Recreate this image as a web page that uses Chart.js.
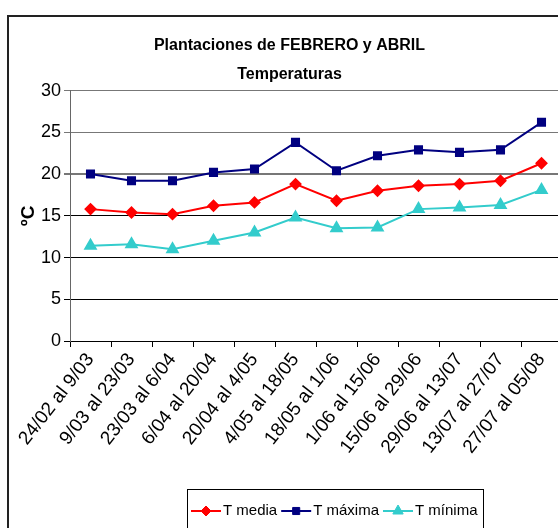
<!DOCTYPE html>
<html>
<head>
<meta charset="utf-8">
<script src="https://cdn.jsdelivr.net/npm/chart.js@4.4.0/dist/chart.umd.min.js"></script>
<style>
  html, body { margin: 0; padding: 0; background: #fff; overflow: hidden; }
  #wrap { position: relative; width: 558px; height: 528px; overflow: hidden; }
  #chart { position: absolute; left: 0; top: 0; }
</style>
</head>
<body>
<div id="wrap"><canvas id="chart" width="600" height="560"></canvas></div>
<script>
// Data
const periods = ['24/02 al 9/03', '9/03 al 23/03', '23/03 al 6/04', '6/04 al 20/04', '20/04 al 4/05', '4/05 al 18/05',
                 '18/05 al 1/06', '1/06 al 15/06', '15/06 al 29/06', '29/06 al 13/07', '13/07 al 27/07', '27/07 al 05/08'];
const tMedia  = [15.8, 15.4, 15.2, 16.2, 16.6, 18.8, 16.8, 18.0, 18.6, 18.8, 19.2, 21.3];
const tMaxima = [20.0, 19.2, 19.2, 20.2, 20.6, 23.8, 20.4, 22.2, 22.9, 22.6, 22.9, 26.2];
const tMinima = [11.4, 11.6, 11.0, 12.0, 13.0, 14.8, 13.5, 13.6, 15.8, 16.0, 16.3, 18.1];
const yTicks = [0, 5, 10, 15, 20, 25, 30];

const FONT = "'Liberation Sans', Arial, sans-serif";

// outer frame of the chart object
const framePlugin = {
    id: 'frame',
    beforeDraw(chart) {
        const ctx = chart.ctx;
        ctx.save();
        ctx.strokeStyle = '#222';
        ctx.lineWidth = 2;
        ctx.strokeRect(8, 16, 620, 620);
        ctx.restore();
    }
};

// boxed legend with line + marker, like the spreadsheet one
const legendPlugin = {
    id: 'boxLegend',
    afterDraw(chart) {
        const ctx = chart.ctx;
        const y = 511;
        ctx.save();
        ctx.strokeStyle = '#000';
        ctx.lineWidth = 1;
        ctx.strokeRect(187.5, 489.5, 296, 60);
        ctx.font = '15px ' + FONT;
        ctx.textBaseline = 'middle';
        ctx.textAlign = 'left';
        let x = 191;
        chart.data.datasets.forEach(ds => {
            ctx.strokeStyle = ds.borderColor;
            ctx.lineWidth = 2;
            ctx.beginPath();
            ctx.moveTo(x, y);
            ctx.lineTo(x + 30, y);
            ctx.stroke();
            ctx.fillStyle = ds.pointBackgroundColor;
            ctx.strokeStyle = ds.pointBorderColor;
            ctx.lineWidth = 1;
            Chart.helpers.drawPoint(ctx, { pointStyle: ds.pointStyle, radius: ds.pointRadius, borderWidth: 1 }, x + 15, y);
            ctx.fillStyle = '#000';
            ctx.fillText(ds.label, x + 32, y);
            x += 32 + ctx.measureText(ds.label).width + 4;
        });
        ctx.restore();
    }
};

const ctx = document.getElementById('chart').getContext('2d');
new Chart(ctx, {
    type: 'line',
    data: {
        labels: periods,
        datasets: [
            { label: 'T media', data: tMedia, borderColor: '#FF0000', backgroundColor: '#FF0000',
              pointStyle: 'rectRot', pointRadius: 5, pointBackgroundColor: '#FF0000', pointBorderColor: '#FF0000',
              borderWidth: 2, tension: 0 },
            { label: 'T máxima', data: tMaxima, borderColor: '#000080', backgroundColor: '#000080',
              pointStyle: 'rect', pointRadius: 5, pointBackgroundColor: '#000080', pointBorderColor: '#000080',
              borderWidth: 2, tension: 0 },
            { label: 'T mínima', data: tMinima, borderColor: '#33CCCC', backgroundColor: '#33CCCC',
              pointStyle: 'triangle', pointRadius: 6, pointBackgroundColor: '#33CCCC', pointBorderColor: '#33CCCC',
              borderWidth: 2, tension: 0 }
        ]
    },
    options: {
        responsive: false,
        animation: false,
        devicePixelRatio: 1,
        layout: { padding: { left: 17, right: 38, top: 0, bottom: 0 } },
        plugins: {
            legend: { display: false },
            tooltip: { enabled: false },
            title: {
                display: true,
                text: ['Plantaciones de FEBRERO y ABRIL', 'Temperaturas'],
                color: '#000',
                font: { family: FONT, size: 16, weight: 'bold', lineHeight: 1.8 },
                padding: { top: 31, bottom: 2 }
            }
        },
        scales: {
            x: {
                offset: true,
                afterFit(scale) { scale.height = 219; },
                grid: { display: true, drawOnChartArea: false, drawTicks: true, offset: true, tickLength: 6, color: '#000' },
                border: { color: '#000', width: 1 },
                ticks: {
                    autoSkip: false, maxRotation: 52, minRotation: 52,
                    color: '#000', padding: 2,
                    font: { family: FONT, size: 19 }
                }
            },
            y: {
                min: 0, max: 30,
                afterFit(scale) { scale.width = 53; },
                afterBuildTicks(scale) { scale.ticks = yTicks.map(v => ({ value: v })); },
                grid: {
                    color: c => (c.tick && c.tick.value >= 20 ? '#777' : '#000'),
                    lineWidth: c => (c.tick && c.tick.value === 20 ? 2 : 1),
                    tickLength: 6
                },
                border: { color: '#666', width: 1 },
                ticks: { color: '#000', padding: 3, font: { family: FONT, size: 18 } },
                title: {
                    display: true, text: 'ºC', color: '#000', padding: { top: 0, bottom: 4 },
                    font: { family: FONT, size: 19, weight: 'bold' }
                }
            }
        }
    },
    plugins: [framePlugin, legendPlugin]
});
</script>
</body>
</html>
